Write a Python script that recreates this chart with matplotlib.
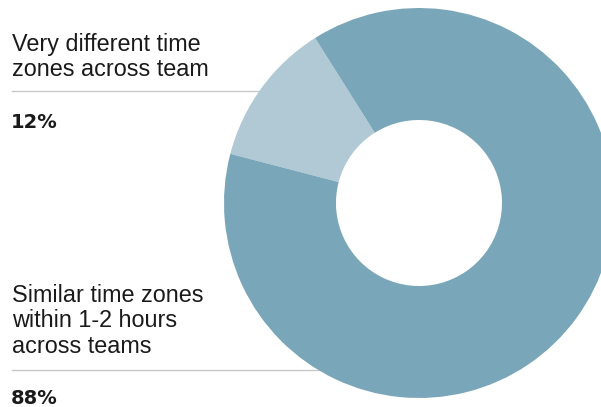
import matplotlib.pyplot as plt

# survey result: team time zone spread
labels = ["Very different time\nzones across team", "Similar time zones\nwithin 1-2 hours\nacross teams"]
shares = [12, 88]
colors = ["#B0C9D5", "#7AA6B9"]

W, H = 601, 407
fig = plt.figure(figsize=(W / 100, H / 100), dpi=100)

# background axes in pixel coords for labels and rules
bg = fig.add_axes([0, 0, 1, 1])
bg.set_xlim(0, W)
bg.set_ylim(H, 0)
bg.axis("off")

# donut: center (419, 203), radius 195 px
cx, cy, r = 419, 203, 195
ax = fig.add_axes([(cx - r) / W, (H - cy - r) / H, 2 * r / W, 2 * r / H])
ax.pie(shares, colors=colors, startangle=122.2, counterclock=True,
       radius=1, wedgeprops=dict(width=1 - 83 / 195, linewidth=0))
ax.set_xlim(-1, 1)
ax.set_ylim(-1, 1)
ax.set_aspect("equal")
ax.axis("off")

text_col = "#1a1a1a"
rule_col = "#c8c8c8"
label_font = dict(family="Liberation Sans", fontsize=16.8, color=text_col)
pct_font = dict(family="DejaVu Sans", fontsize=14, fontweight="bold", color=text_col)

# (first baseline, rule y, percent baseline, rule end x)
layout = [(50.5, 91, 128, 262), (302, 370, 404, 320)]
for lab, val, (y0, ry, py, rx) in zip(labels, shares, layout):
    for i, line in enumerate(lab.split("\n")):
        bg.text(12, y0 + i * 25.3, line, va="baseline", ha="left", **label_font)
    bg.plot([12, rx], [ry, ry], color=rule_col, lw=1.0, zorder=0)
    bg.text(11, py, f"{val}%", va="baseline", ha="left", **pct_font)

fig.savefig("out.png", dpi=100)
